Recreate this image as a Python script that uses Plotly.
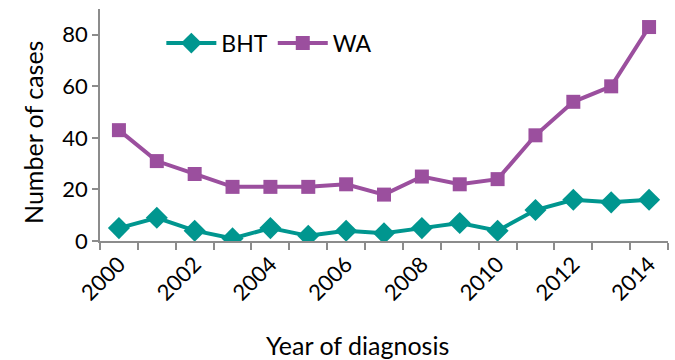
import plotly.graph_objects as go

# Cases by year of diagnosis
years = list(range(2000, 2015))
bht_cases = [5, 9, 4, 1, 5, 2, 4, 3, 5, 7, 4, 12, 16, 15, 16]
wa_cases = [43, 31, 26, 21, 21, 21, 22, 18, 25, 22, 24, 41, 54, 60, 83]

y_ticks = [0, 20, 40, 60, 80]
x_label_years = [2000, 2002, 2004, 2006, 2008, 2010, 2012, 2014]

teal = "#00968F"
purple = "#9B4F9E"
axis_grey = "#8C8C8C"
font_family = "Lato, 'Open Sans', sans-serif"

fig = go.Figure()
fig.add_trace(go.Scatter(
    x=years, y=bht_cases, name="BHT", mode="lines+markers",
    line=dict(color=teal, width=4),
    marker=dict(symbol="diamond", size=17, color=teal),
))
fig.add_trace(go.Scatter(
    x=years, y=wa_cases, name="WA", mode="lines+markers",
    line=dict(color=purple, width=4),
    marker=dict(symbol="square", size=14, color=purple),
))

boundaries = [y - 0.5 for y in years] + [years[-1] + 0.5]

fig.update_layout(
    width=675, height=360,
    margin=dict(l=100, r=7, t=9, b=119, autoexpand=False),
    paper_bgcolor="white", plot_bgcolor="white",
    font=dict(family=font_family, size=22, color="black"),
    showlegend=True,
    legend=dict(
        orientation="h", x=0.108, y=0.853, xanchor="left", yanchor="middle",
        font=dict(size=23), bgcolor="rgba(0,0,0,0)",
        itemwidth=50, tracegroupgap=0,
    ),
    xaxis=dict(
        range=[years[0] - 0.5, years[-1] + 0.5],
        tickvals=x_label_years, ticktext=[str(v) for v in x_label_years],
        tickangle=-45, ticks="", showgrid=False, zeroline=False,
        showline=True, linecolor=axis_grey, linewidth=1.5,
        tickfont=dict(size=22),
        minor=dict(tickvals=boundaries, ticks="outside", ticklen=7,
                   tickcolor=axis_grey, tickwidth=1.5, showgrid=False),
    ),
    yaxis=dict(
        range=[0, 90], tickvals=y_ticks,
        ticks="outside", ticklen=6, tickcolor=axis_grey, tickwidth=1.5,
        showgrid=False, zeroline=False,
        showline=True, linecolor=axis_grey, linewidth=1.5,
        tickfont=dict(size=22),
    ),
    annotations=[
        dict(text="Year of diagnosis", xref="paper", yref="paper",
             x=0.453, y=-0.448, xanchor="center", yanchor="middle",
             showarrow=False, font=dict(size=25)),
        dict(text="Number of cases", xref="paper", yref="paper",
             x=-0.118, y=0.47, xanchor="center", yanchor="middle",
             textangle=-90, showarrow=False, font=dict(size=25)),
    ],
)

fig.write_html("out.html")
